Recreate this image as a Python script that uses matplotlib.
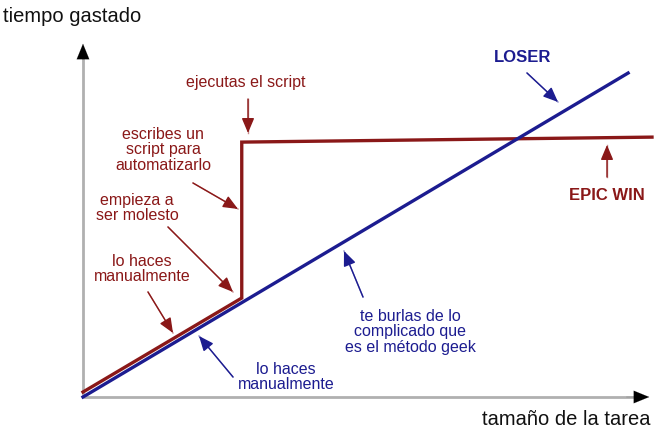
import matplotlib
matplotlib.use("Agg")
import matplotlib.pyplot as plt
from matplotlib import font_manager

# ---- data (task size vs time spent, arbitrary units 0-100) ----
loser_x = [0, 95.8]
loser_y = [0, 91.0]
epic_x = [0, 27.9, 27.9, 100]
epic_y = [1.4, 27.8, 71.6, 73.0]

xlabel = "tamaño de la tarea"
ylabel = "tiempo gastado"

RED = "#8a1818"
BLUE = "#1c1c90"
RED_L = "#c98a8a"
BLUE_L = "#8a8ac9"

names = {f.name for f in font_manager.fontManager.ttflist}
fam = ["Liberation Sans Narrow", "DejaVu Sans"] if "Liberation Sans Narrow" in names else ["Liberation Sans", "DejaVu Sans"]
plt.rcParams["font.family"] = fam

W, H = 660, 435
fig = plt.figure(figsize=(W / 100, H / 100), dpi=100)
x0, y0, x1, y1 = 83, 398, 652, 42
ax = fig.add_axes([x0 / W, (H - y0) / H, (x1 - x0) / W, (y0 - y1) / H])
ax.set_xlim(0, 100)
ax.set_ylim(0, 100)
ax.axis("off")

def px(xp, yp):
    return ((xp - x0) / (x1 - x0) * 100, (y0 - yp) / (y0 - y1) * 100)

# axes arrows
ax.plot([0, 97.5], [0, 0], color="#b0b0b0", lw=2.0, clip_on=False, solid_capstyle="butt")
ax.plot([0, 0], [0, 96], color="#b0b0b0", lw=2.0, clip_on=False, solid_capstyle="butt")
ax.annotate("", xy=(100, 0), xytext=(95, 0), annotation_clip=False,
            arrowprops=dict(arrowstyle="-|>,head_length=1.1,head_width=0.45", color="black", lw=0.1))
ax.annotate("", xy=(0, 100), xytext=(0, 94), annotation_clip=False,
            arrowprops=dict(arrowstyle="-|>,head_length=1.1,head_width=0.45", color="black", lw=0.1))

ax.plot(epic_x, epic_y, color=RED, lw=2.4, clip_on=False, solid_joinstyle="miter")
ax.plot(loser_x, loser_y, color=BLUE, lw=2.4, clip_on=False)

fs = 11.5
ax.text(*px(3, 17), ylabel, fontsize=14.5, color="#111111", ha="left", va="center", clip_on=False)
ax.text(*px(650, 420), xlabel, fontsize=14.5, color="#111111", ha="right", va="center", clip_on=False)

def note(text, tpos, color, ha="center"):
    ax.text(*px(*tpos), text, fontsize=fs, color=color, ha=ha, va="center",
            linespacing=1.05, clip_on=False)

def arrow(start, end, lc, hc):
    ax.annotate("", xy=px(*end), xytext=px(*start), annotation_clip=False,
                arrowprops=dict(arrowstyle="-|>,head_length=0.9,head_width=0.38",
                                color=hc, lw=1.0, shrinkA=0, shrinkB=0))
    # lighter shaft
    ax.plot([px(*start)[0], px(*end)[0]], [px(*start)[1], px(*end)[1]], color=lc, lw=1.0, clip_on=False, zorder=1)

note("ejecutas el script", (246, 83), RED)
arrow((248, 100), (248, 134), RED_L, RED)

note("escribes un\nscript para\nautomatizarlo", (163, 150), RED)
arrow((193, 184), (238, 210), RED_L, RED)

note("empieza a\nser molesto", (137, 208), RED)
arrow((168, 228), (233, 293), RED_L, RED)

note("lo haces\nmanualmente", (142, 269), RED)
arrow((148, 293), (173, 334), RED_L, RED)

note("lo haces\nmanualmente", (286, 377), BLUE)
arrow((233, 378), (199, 337), BLUE_L, BLUE)

note("te burlas de lo\ncomplicado que\nes el método geek", (410, 332), BLUE)
arrow((363, 298), (344, 252), BLUE_L, BLUE)

ax.text(*px(523, 58), "LOSER", fontsize=12, color=BLUE, ha="center", va="center",
        fontweight="bold", clip_on=False)
arrow((527, 74), (558, 103), BLUE_L, BLUE)

ax.text(*px(607, 196), "EPIC WIN", fontsize=12, color=RED, ha="center", va="center",
        fontweight="bold", clip_on=False)
arrow((607, 178), (607, 146), RED_L, RED)

fig.savefig("out.png", dpi=100, facecolor="white")
